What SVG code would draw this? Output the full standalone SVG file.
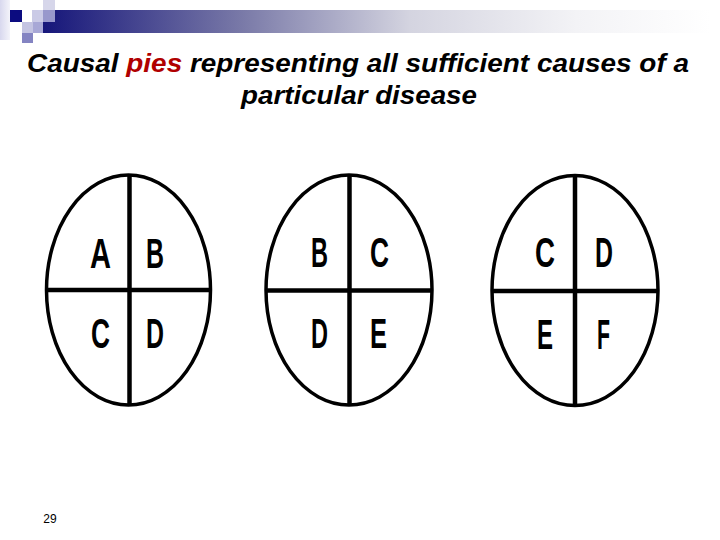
<svg xmlns="http://www.w3.org/2000/svg" width="720" height="540" viewBox="0 0 720 540">
<defs>
<linearGradient id="bar" x1="43" y1="0" x2="710" y2="0" gradientUnits="userSpaceOnUse">
<stop offset="0" stop-color="#16167a"/>
<stop offset="0.3" stop-color="#7a7aa8"/>
<stop offset="0.55" stop-color="#d4d4e0"/>
<stop offset="0.8" stop-color="#f3f3f6"/>
<stop offset="1" stop-color="#ffffff"/>
</linearGradient>
<linearGradient id="col" x1="0" y1="0" x2="10" y2="0" gradientUnits="userSpaceOnUse">
<stop offset="0" stop-color="#d8d8ee"/>
<stop offset="1" stop-color="#f4f4fa"/>
</linearGradient>
</defs>
<style>
.pie{fill:#fff;stroke:#000;stroke-width:3.5}
.div{stroke:#000;stroke-width:4.5}
.lt{font-family:"Liberation Sans",Arial,sans-serif;font-weight:bold;font-size:42px;fill:#000;text-anchor:middle}
.title{font-family:"Liberation Sans",Arial,sans-serif;font-weight:bold;font-style:italic;font-size:25px;fill:#000}
</style>
<rect width="720" height="540" fill="#fff"/>
<g id="header">
<rect x="0" y="0" width="10" height="40" fill="url(#col)"/>
<rect x="43" y="10" width="677" height="23" fill="url(#bar)"/>
<rect x="10" y="10" width="12" height="12" fill="#0c0c80"/>
<rect x="43" y="0" width="12" height="10" fill="#d6d6ea"/>
<rect x="32" y="10" width="11" height="12" fill="#cacae6"/>
<rect x="43" y="10" width="12" height="12" fill="#9898cc"/>
<rect x="22" y="22" width="11" height="11" fill="#c4c4e2"/>
<rect x="33" y="22" width="10" height="11" fill="#a8a8d6"/>
<rect x="22" y="33" width="11" height="10" fill="#8484c2"/>
</g>
<g id="title">
<text class="title" x="27" y="71.5" textLength="662" lengthAdjust="spacingAndGlyphs">Causal <tspan fill="#b00000">pies</tspan> representing all sufficient causes of a</text>
<text class="title" x="241" y="104" textLength="236" lengthAdjust="spacingAndGlyphs">particular disease</text>
</g>
<g id="pie1">
<ellipse class="pie" cx="128.5" cy="290" rx="82" ry="115"/>
<line class="div" x1="129.5" y1="175" x2="129.5" y2="405"/>
<line class="div" x1="46.5" y1="290" x2="210.5" y2="290"/>
<text class="lt" x="100.5" y="268" textLength="21" lengthAdjust="spacingAndGlyphs">A</text>
<text class="lt" x="155" y="268" textLength="18" lengthAdjust="spacingAndGlyphs">B</text>
<text class="lt" x="100.5" y="348" textLength="19" lengthAdjust="spacingAndGlyphs">C</text>
<text class="lt" x="155" y="348" textLength="18" lengthAdjust="spacingAndGlyphs">D</text>
</g>
<g id="pie2">
<ellipse class="pie" cx="349" cy="290" rx="83" ry="115"/>
<line class="div" x1="349.5" y1="175" x2="349.5" y2="405"/>
<line class="div" x1="266" y1="290.5" x2="432" y2="290.5"/>
<text class="lt" x="319.5" y="267" textLength="17" lengthAdjust="spacingAndGlyphs">B</text>
<text class="lt" x="379.5" y="267" textLength="19" lengthAdjust="spacingAndGlyphs">C</text>
<text class="lt" x="319.5" y="348" textLength="17" lengthAdjust="spacingAndGlyphs">D</text>
<text class="lt" x="378.5" y="348" textLength="17" lengthAdjust="spacingAndGlyphs">E</text>
</g>
<g id="pie3">
<ellipse class="pie" cx="575" cy="290.5" rx="83" ry="115"/>
<line class="div" x1="575" y1="175.5" x2="575" y2="405.5"/>
<line class="div" x1="492" y1="291" x2="658" y2="291"/>
<text class="lt" x="545" y="267" textLength="20" lengthAdjust="spacingAndGlyphs">C</text>
<text class="lt" x="604" y="267" textLength="18" lengthAdjust="spacingAndGlyphs">D</text>
<text class="lt" x="545" y="349" textLength="16" lengthAdjust="spacingAndGlyphs">E</text>
<text class="lt" x="603.5" y="349" textLength="13" lengthAdjust="spacingAndGlyphs">F</text>
</g>
<g id="pagenum">
<text x="50" y="523" font-family="Liberation Sans,Arial,sans-serif" font-size="12" text-anchor="middle" fill="#000">29</text>
</g>
</svg>
